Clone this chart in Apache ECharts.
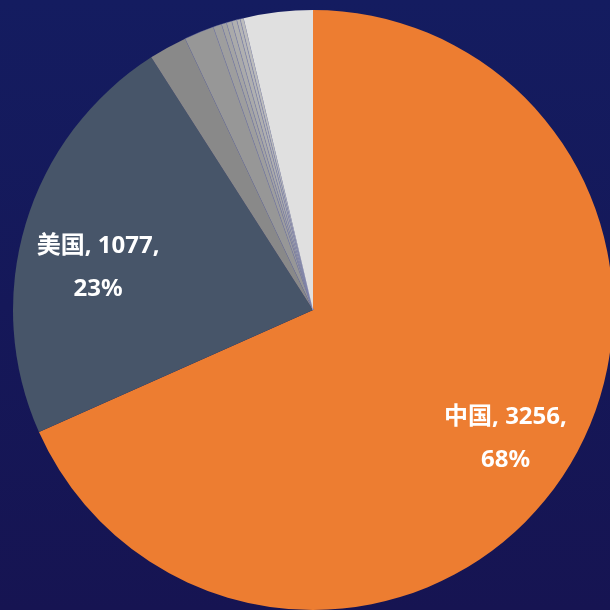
<!DOCTYPE html>
<html>
<head>
<meta charset="utf-8">
<script src="https://cdn.jsdelivr.net/npm/echarts@6/dist/echarts.min.js"></script>
<style>
  html, body { margin: 0; padding: 0; }
  #main { width: 610px; height: 610px; background: linear-gradient(180deg, #141c60 0%, #161452 100%); }
</style>
</head>
<body>
<div id="main"></div>
<script>
// country names and member counts
var names = ['中国', '美国', '英国', '德国', '日本', '法国', '加拿大', '印度', '韩国', '澳大利亚', '其他'];
var values = [3256, 1077, 98, 77, 22, 13, 14, 13, 9, 9, 177];
var colors = ['#ed7d31', '#475569', '#898989', '#979797', '#9e9e9e', '#a4a4a4', '#aaaaaa', '#b0b0b0', '#b6b6b6', '#bcbcbc', '#e0e0e0'];
var labelled = ['中国', '美国'];

var chart = echarts.init(document.getElementById('main'));

var cx = 313, cy = 310;

var data = names.map(function (n, i) {
  var big = labelled.indexOf(n) >= 0;
  // thin seams only between the grey slices
  var seam = i >= 3 && i < names.length - 1;
  return {
    name: n,
    value: values[i],
    itemStyle: seam ? {
      color: colors[i],
      borderColor: 'rgba(120,125,175,0.7)',
      borderWidth: 0.5
    } : { color: colors[i], borderWidth: 0 },
    label: { show: big }
  };
});

chart.setOption({
  backgroundColor: 'transparent',
  animation: false,
  series: [{
    type: 'pie',
    center: [cx, cy],
    radius: [0, 300],
    startAngle: 90,
    clockwise: true,
    data: data,
    label: {
      position: 'inside',
      color: '#ffffff',
      fontFamily: '"Noto Sans", "Noto Sans CJK SC", sans-serif',
      fontWeight: 'bold',
      fontSize: 24,
      lineHeight: 43,
      formatter: function (p) {
        return p.name + ', ' + p.value + ',\n' + Math.round(p.percent) + '%';
      }
    },
    labelLine: { show: false },
    labelLayout: function (params) {
      var r = params.labelRect;
      var lx = r.x + r.width / 2, ly = r.y + r.height / 2;
      var dx = (lx - cx) * 0.5, dy = (ly - cy) * 0.5;
      if (params.dataIndex === 1) { dx += 5; dy += 24; }
      if (params.dataIndex === 0) { dy += 4; }
      return { dx: dx, dy: dy };
    },
    emphasis: { disabled: true }
  }]
});
</script>
</body>
</html>
